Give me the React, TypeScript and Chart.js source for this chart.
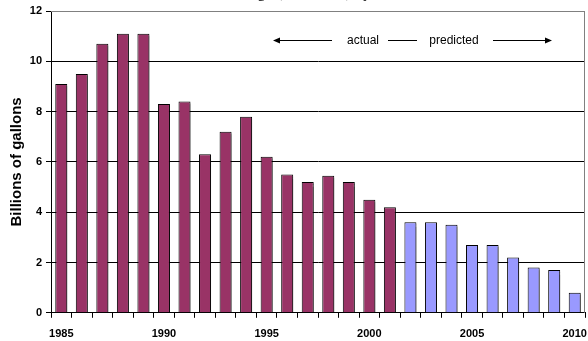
import React, { useEffect, useRef } from "react";
import { Chart, registerables } from "chart.js";

Chart.register(...registerables);

const years: string[] = [
  "1985", "1986", "1987", "1988", "1989", "1990", "1991", "1992", "1993",
  "1994", "1995", "1996", "1997", "1998", "1999", "2000", "2001", "2002",
  "2003", "2004", "2005", "2006", "2007", "2008", "2009", "2010",
];
const actualValues: number[] = [
  9.1, 9.5, 10.7, 11.1, 11.1, 8.3, 8.4, 6.3, 7.2, 7.8, 6.2, 5.5, 5.2, 5.45, 5.2, 4.5, 4.2,
];
const predictedValues: number[] = [3.6, 3.6, 3.5, 2.7, 2.7, 2.2, 1.8, 1.7, 0.8];
const labeledYears: string[] = ["1985", "1990", "1995", "2000", "2005", "2010"];
const yTicks: number[] = [0, 2, 4, 6, 8, 10, 12];
const titleText = "MTBE Usage (Estimated) by Year";
const axisTitle = "Billions of gallons";
const noteActual = "actual";
const notePredicted = "predicted";

const FONT = "'Liberation Sans', Arial, Helvetica, sans-serif";
const CANVAS_W = 588;
const CANVAS_H = 361;
const SHIFT = 20;

const shadowPlugin = {
  id: "barShadow",
  beforeDatasetsDraw(chart: any) {
    const ctx = chart.ctx;
    ctx.save();
    ctx.shadowColor = "rgba(0,0,0,0.35)";
    ctx.shadowOffsetX = 2;
    ctx.shadowOffsetY = 2;
    ctx.shadowBlur = 1;
  },
  afterDatasetsDraw(chart: any) {
    chart.ctx.restore();
  },
};

const framePlugin = {
  id: "frame",
  afterDraw(chart: any) {
    const { ctx, chartArea } = chart;
    ctx.save();
    ctx.strokeStyle = "#808080";
    ctx.lineWidth = 1;
    ctx.beginPath();
    ctx.moveTo(chartArea.left, Math.round(chartArea.top) + 0.5);
    ctx.lineTo(Math.round(chartArea.right) - 0.5, Math.round(chartArea.top) + 0.5);
    ctx.lineTo(Math.round(chartArea.right) - 0.5, chartArea.bottom);
    ctx.stroke();

    // actual / predicted annotation
    const cl = chartArea.left;
    const y = Math.round(chartArea.top + 29) + 0.5;
    ctx.strokeStyle = "#000";
    ctx.fillStyle = "#000";
    const seg = (x1: number, x2: number) => {
      ctx.beginPath();
      ctx.moveTo(cl + x1, y);
      ctx.lineTo(cl + x2, y);
      ctx.stroke();
    };
    const head = (tip: number, dir: number) => {
      ctx.beginPath();
      ctx.moveTo(cl + tip, y);
      ctx.lineTo(cl + tip - dir * 7, y - 3);
      ctx.lineTo(cl + tip - dir * 7, y + 3);
      ctx.closePath();
      ctx.fill();
    };
    seg(224, 281);
    head(222, -1);
    seg(337, 366);
    seg(442, 499);
    head(501, 1);
    ctx.font = "12px " + FONT;
    ctx.textAlign = "center";
    ctx.textBaseline = "middle";
    ctx.fillText(noteActual, cl + 312, y);
    ctx.fillText(notePredicted, cl + 403, y);
    ctx.restore();
  },
};

export default function App() {
  const ref = useRef<HTMLCanvasElement>(null);

  useEffect(() => {
    if (!ref.current) return;
    const actualData = years.map((_, i) => (i < actualValues.length ? actualValues[i] : null));
    const predictedData = years.map((_, i) =>
      i >= actualValues.length ? predictedValues[i - actualValues.length] : null
    );
    const chart = new Chart(ref.current, {
      type: "bar",
      data: {
        labels: years,
        datasets: [
          {
            label: noteActual,
            data: actualData,
            backgroundColor: "#993366",
            borderColor: "#000000",
            borderWidth: 1,
            grouped: false,
            barPercentage: 0.585,
            categoryPercentage: 1,
          } as any,
          {
            label: notePredicted,
            data: predictedData,
            backgroundColor: "#9999FF",
            borderColor: "#000000",
            borderWidth: 1,
            grouped: false,
            barPercentage: 0.585,
            categoryPercentage: 1,
          } as any,
        ],
      },
      options: {
        responsive: false,
        animation: false,
        devicePixelRatio: 1,
        layout: { padding: { left: 4, right: 3, top: 0, bottom: 0 } },
        plugins: {
          legend: { display: false },
          tooltip: { enabled: false },
          title: {
            display: true,
            text: titleText,
            color: "#000",
            font: { family: "'Liberation Serif', 'Times New Roman', serif", size: 16, weight: "normal" },
            padding: { top: 3, bottom: 8.8 },
          },
        },
        scales: {
          x: {
            offset: true,
            afterFit: (scale: any) => {
              scale.height = 28.2;
              scale.paddingLeft = 0;
              scale.paddingRight = 0;
            },
            grid: {
              offset: true,
              drawOnChartArea: false,
              drawTicks: true,
              tickLength: 5,
              color: "#000",
            },
            border: { display: true, color: "#000", width: 1 },
            ticks: {
              autoSkip: false,
              maxRotation: 0,
              minRotation: 0,
              padding: 10,
              color: "#000",
              font: { family: FONT, size: 11, weight: "bold" },
              callback: (_v: any, i: number) => (labeledYears.includes(years[i]) ? years[i] : ""),
            },
          },
          y: {
            min: 0,
            max: 12,
            afterBuildTicks: (scale: any) => {
              scale.ticks = yTicks.map((v) => ({ value: v }));
            },
            afterFit: (scale: any) => {
              scale.width = 47;
            },
            grid: {
              color: (c: any) => (c.tick && c.tick.value === 12 ? "#808080" : "#000"),
              tickColor: "#000",
              tickLength: 5,
              drawTicks: true,
            },
            border: { display: true, color: "#000", width: 1 },
            ticks: {
              padding: 4,
              color: "#000",
              font: { family: FONT, size: 11, weight: "bold" },
            },
            title: {
              display: true,
              text: axisTitle,
              color: "#000",
              font: { family: FONT, size: 15, weight: "bold" },
              padding: { top: 4, bottom: 4 },
            },
          },
        },
      },
      plugins: [shadowPlugin, framePlugin],
    });
    return () => chart.destroy();
  }, []);

  return (
    <div
      style={{
        position: "fixed",
        left: 0,
        top: -SHIFT,
        width: CANVAS_W,
        height: CANVAS_H,
        overflow: "hidden",
      }}
    >
      <canvas
        ref={ref}
        width={CANVAS_W}
        height={CANVAS_H}
        style={{ display: "block", width: CANVAS_W, height: CANVAS_H }}
      />
    </div>
  );
}
